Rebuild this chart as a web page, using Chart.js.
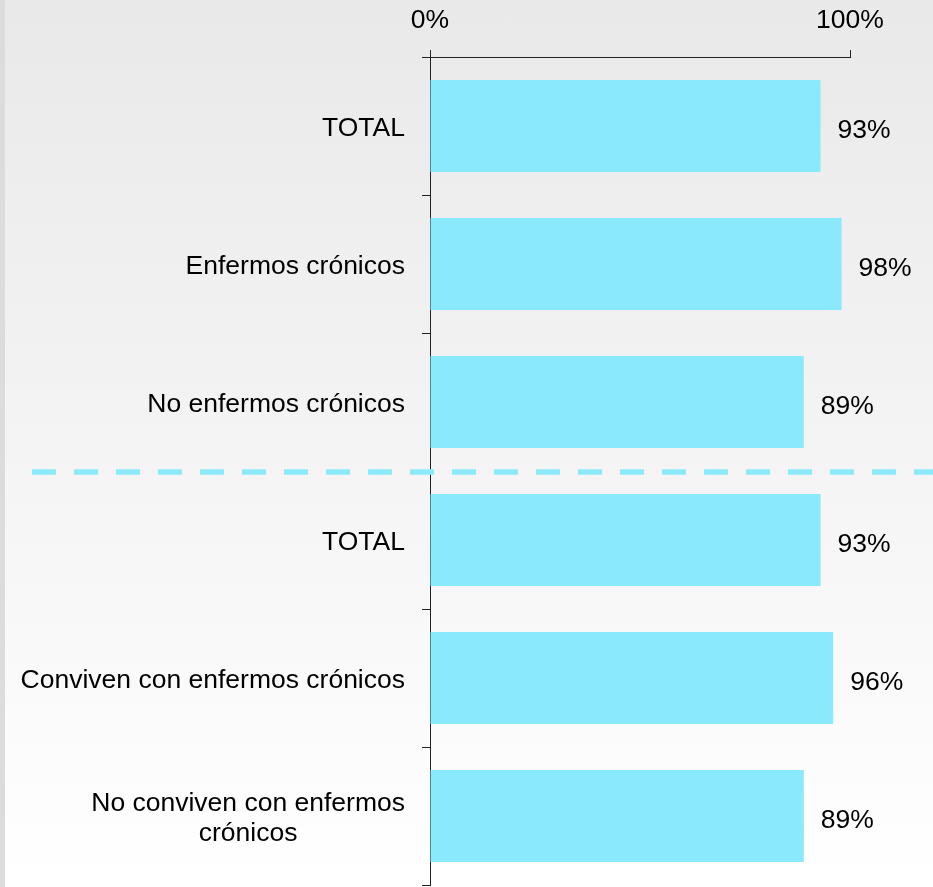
<!DOCTYPE html>
<html>
<head>
<meta charset="utf-8">
<script src="https://cdn.jsdelivr.net/npm/chart.js@4"></script>
<style>
  html, body { margin: 0; padding: 0; }
  #wrap {
    position: relative;
    width: 933px;
    height: 887px;
    box-sizing: border-box;
    border-left: 5px solid #dcdcdc;
    background: linear-gradient(to bottom, #e9e9e9 0%, #f4f4f4 50%, #ffffff 100%);
  }
  #wrap canvas { position: absolute; left: -5px; top: 0; }
</style>
</head>
<body>
<div id="wrap"><canvas id="chart" width="933" height="887"></canvas></div>
<script>
'use strict';

const categories = [
  'TOTAL',
  'Enfermos crónicos',
  'No enfermos crónicos',
  'TOTAL',
  'Conviven con enfermos crónicos',
  ['No conviven con enfermos', 'crónicos']
];
const values = [93, 98, 89, 93, 96, 89];
const xTicks = [0, 100];
const dividerAfter = 2;

const FONT = '"Liberation Sans", Arial, sans-serif';
const FONT_SIZE = 26.5;
const BAR_COLOR = '#8be9fd';

// left labels, right aligned, second line of a wrapped label centered
const categoryLabels = {
  id: 'categoryLabels',
  afterDraw(chart) {
    const ctx = chart.ctx;
    const y = chart.scales.y;
    const xRight = y.right - 25;
    ctx.save();
    ctx.font = FONT_SIZE + 'px ' + FONT;
    ctx.fillStyle = '#000';
    ctx.textBaseline = 'middle';
    categories.forEach((lab, i) => {
      const cy = y.getPixelForValue(i) + 3;
      if (Array.isArray(lab)) {
        const widest = Math.max(...lab.map(l => ctx.measureText(l).width));
        ctx.textAlign = 'center';
        const lh = 30;
        lab.forEach((l, j) => {
          ctx.fillText(l, xRight - widest / 2, cy + (j - (lab.length - 1) / 2) * lh);
        });
      } else {
        ctx.textAlign = 'right';
        ctx.fillText(lab, xRight, cy);
      }
    });
    ctx.restore();
  }
};

const valueLabels = {
  id: 'valueLabels',
  afterDatasetsDraw(chart) {
    const ctx = chart.ctx;
    const meta = chart.getDatasetMeta(0);
    ctx.save();
    ctx.font = FONT_SIZE + 'px ' + FONT;
    ctx.fillStyle = '#000';
    ctx.textAlign = 'left';
    ctx.textBaseline = 'middle';
    meta.data.forEach((bar, i) => {
      ctx.fillText(values[i] + '%', bar.x + 17, bar.y + 5);
    });
    ctx.restore();
  }
};

const divider = {
  id: 'divider',
  afterDraw(chart) {
    const ctx = chart.ctx;
    const y = chart.scales.y;
    const py = (y.getPixelForValue(dividerAfter) + y.getPixelForValue(dividerAfter + 1)) / 2 + 1;
    ctx.save();
    ctx.strokeStyle = '#8de9fc';
    ctx.lineWidth = 5.5;
    ctx.setLineDash([24, 18]);
    ctx.beginPath();
    ctx.moveTo(32, py);
    ctx.lineTo(chart.width, py);
    ctx.stroke();
    ctx.restore();
  }
};

new Chart(document.getElementById('chart'), {
  type: 'bar',
  data: {
    labels: categories.map(c => Array.isArray(c) ? c.join(' ') : c),
    datasets: [{
      data: values,
      backgroundColor: BAR_COLOR,
      borderWidth: 0,
      categoryPercentage: 1,
      barPercentage: 0.667
    }]
  },
  options: {
    indexAxis: 'y',
    responsive: false,
    animation: false,
    layout: { padding: { top: 0, right: 83, bottom: 2, left: 0 } },
    plugins: {
      legend: { display: false },
      tooltip: { enabled: false }
    },
    scales: {
      x: {
        position: 'top',
        min: 0,
        max: 100,
        afterBuildTicks(scale) { scale.ticks = xTicks.map(v => ({ value: v })); },
        afterFit(scale) { scale.height = 57; },
        ticks: {
          padding: 13,
          color: '#000',
          font: { family: FONT, size: FONT_SIZE },
          callback: v => v + '%'
        },
        border: { display: true, color: '#222', width: 1 },
        grid: { drawOnChartArea: false, drawTicks: true, tickLength: 7, color: '#222' }
      },
      y: {
        afterFit(scale) { scale.width = 430; },
        ticks: { display: false },
        border: { display: true, color: '#222', width: 1 },
        grid: { offset: true, drawOnChartArea: false, drawTicks: true, tickLength: 8, color: '#222' }
      }
    }
  },
  plugins: [divider, valueLabels, categoryLabels]
});
</script>
</body>
</html>
